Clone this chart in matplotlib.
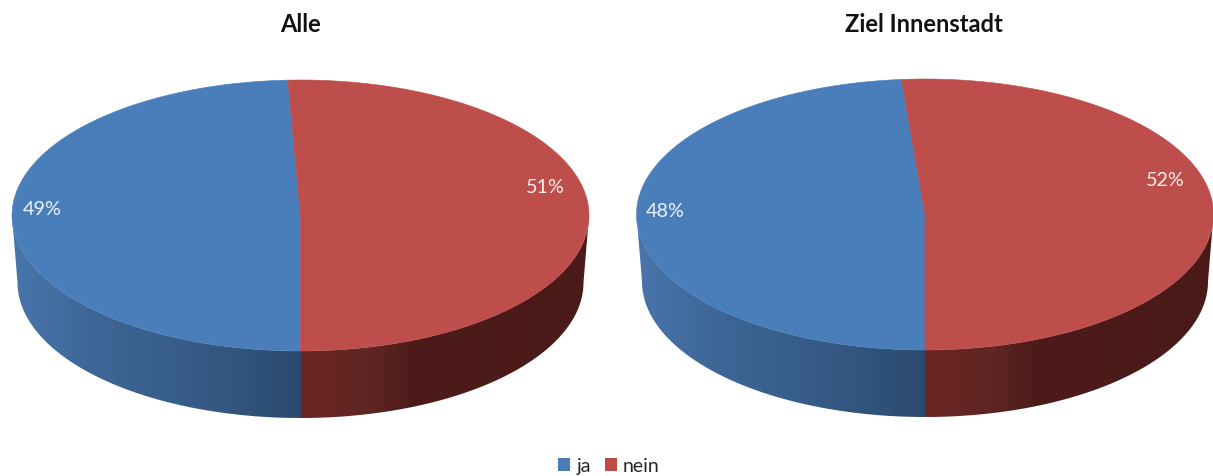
import matplotlib

matplotlib.use('Agg')

import matplotlib.pyplot as plt
import numpy as np
from matplotlib.patches import Patch, Polygon

plt.rcParams['font.family'] = ['Lato', 'DejaVu Sans']

WIDTH, HEIGHT = 1213, 477

titles = ['Alle', 'Ziel Innenstadt']
categories = ['ja', 'nein']
ja_values = [49.3, 48.7]
nein_values = [50.7, 51.3]
ja_labels = ['49%', '48%']
nein_labels = ['51%', '52%']

centers = [(300.5, 216.5), (925, 215.5)]
ja_label_pos = [(42, 210), (665, 212)]
nein_label_pos = [(545, 188), (1165, 181)]
title_pos = [(300, 25), (924, 24)]

RX, RY, DEPTH = 288.5, 135.5, 67
RX_BOTTOM = 283
TOP_COLORS = {'ja': '#4a7ebb', 'nein': '#bd4e4b'}
LEGEND_COLORS = {'ja': '#4a7ebb', 'nein': '#be4b48'}
# side wall shading, by distance from the vertical through the centre
JA_SHADE = [(0, '#2b4a6d'), (100, '#365a86'), (200, '#3d6595'), (289, '#4875ab')]
NEIN_SHADE = [(0, '#6b2625'), (70, '#5e2522'), (110, '#4d1c1a'), (289, '#4a1a18')]


def shade_row(stops: list, dist: np.ndarray) -> np.ndarray:
    xs = [s[0] for s in stops]
    rgb = np.array([matplotlib.colors.to_rgb(s[1]) for s in stops])
    row = [np.interp(dist, xs, rgb[:, i]) for i in range(3)]
    return np.stack(row, axis=-1)[np.newaxis, :, :]


def rim(cx: float, cy: float, t: np.ndarray, rx: float = RX) -> tuple:
    # t runs clockwise from the front of the pie
    return cx - rx * np.sin(t), cy + RY * np.cos(t)


def draw_side(ax, cx: float, cy: float, t0: float, t1: float, stops: list) -> None:
    t = np.radians(np.linspace(t0, t1, 120))
    x_top, y_top = rim(cx, cy, t)
    x_low, y_low = rim(cx, cy + DEPTH, t, RX_BOTTOM)
    outline = np.column_stack([np.r_[x_top, x_low[::-1]], np.r_[y_top, y_low[::-1]]])
    clip = Polygon(outline, closed=True, transform=ax.transData)

    x_min, x_max = outline[:, 0].min(), outline[:, 0].max()
    y_min, y_max = outline[:, 1].min(), outline[:, 1].max()
    columns = np.linspace(x_min, x_max, 300)
    image = ax.imshow(
        shade_row(stops, np.abs(columns - cx)),
        extent=(x_min, x_max, y_max, y_min),
        aspect='auto',
        interpolation='bilinear',
    )
    image.set_clip_path(clip)


def draw_wedge(ax, cx: float, cy: float, t0: float, t1: float, color: str) -> None:
    t = np.radians(np.linspace(t0, t1, 200))
    x, y = rim(cx, cy, t)
    points = np.column_stack([np.r_[cx, x], np.r_[cy, y]])
    ax.add_patch(Polygon(points, closed=True, facecolor=color, edgecolor=color, linewidth=0.4))


def draw_pie(ax, idx: int) -> None:
    cx, cy = centers[idx]
    ja_angle = ja_values[idx] * 3.6
    nein_angle = nein_values[idx] * 3.6

    # the walls overlap a little at the front so no white seam shows
    draw_side(ax, cx, cy, -0.3, 90, JA_SHADE)
    draw_side(ax, cx, cy, -90, 0, NEIN_SHADE)
    draw_wedge(ax, cx, cy, 0, ja_angle, TOP_COLORS['ja'])
    draw_wedge(ax, cx, cy, ja_angle, ja_angle + nein_angle, TOP_COLORS['nein'])

    ax.text(*ja_label_pos[idx], ja_labels[idx], color='#eef2f8', fontsize=14.2, ha='center', va='center')
    ax.text(*nein_label_pos[idx], nein_labels[idx], color='#f8eeee', fontsize=14.2, ha='center', va='center')
    ax.text(*title_pos[idx], titles[idx], color='#111111', fontsize=17, fontweight='bold', ha='center', va='center')


def main() -> None:
    fig = plt.figure(figsize=(WIDTH / 100, HEIGHT / 100), dpi=100)
    ax = fig.add_axes([0, 0, 1, 1])

    for idx in range(len(titles)):
        draw_pie(ax, idx)

    ax.set_xlim(0, WIDTH)
    ax.set_ylim(HEIGHT, 0)
    ax.axis('off')

    handles = [Patch(facecolor=LEGEND_COLORS[c], label=c) for c in categories]
    fig.legend(
        handles=handles,
        loc='center',
        bbox_to_anchor=(609 / WIDTH, 1 - 467 / HEIGHT),
        ncol=2,
        frameon=False,
        fontsize=14,
        handlelength=0.62,
        handleheight=0.62,
        handletextpad=0.31,
        columnspacing=0.72,
        labelcolor='#262626',
    )

    plt.savefig('out.png', dpi=100)
    plt.close()


if __name__ == '__main__':
    main()
